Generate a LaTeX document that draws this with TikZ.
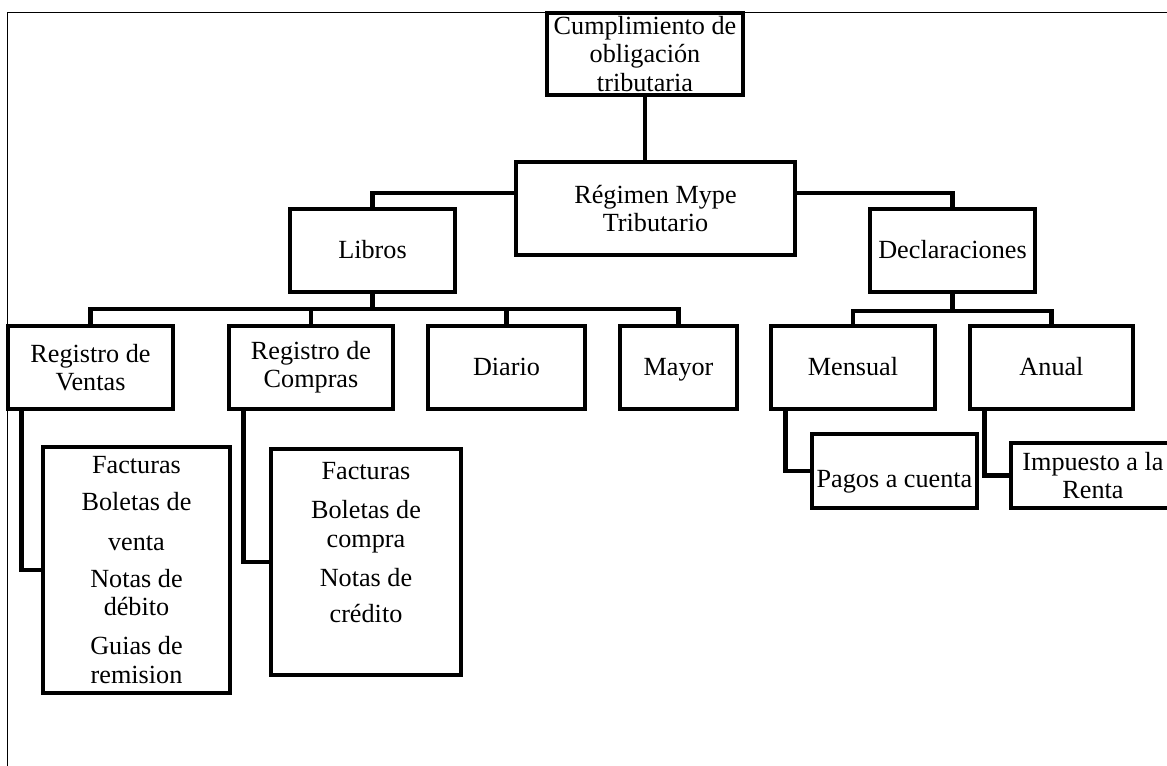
\documentclass[tikz,border=0pt]{standalone}
\usepackage{fontspec}
\setmainfont{Liberation Serif}
\usepackage{tikz}
\usetikzlibrary{positioning}
\newcommand{\pxu}{0.0161cm}

\begin{document}
\begin{tikzpicture}[x=0.0161cm, y=-0.0161cm,
        font=\fontsize{12}{13}\selectfont,
        caja/.style 2 args={draw, line width=2.1pt, align=center, inner sep=0pt,
            minimum width=#1*\pxu, minimum height=#2*\pxu},
        linea/.style={text height=10pt, text depth=2.5pt},
        enlace/.style={line width=2.1pt}]
    \useasboundingbox (0,0) rectangle (1167,766);
    \draw [line width=0.75pt] (1167,12.5) -- (7.5,12.5) -- (7.5,766);   % marco

    % niveles superiores
    \node [caja={196}{82}] (cumpl) at (645,54) {Cumplimiento de\\ obligación\\ tributaria};
    \node [caja={279}{93}] (regimen) at (655.5,208.5) {Régimen Mype\\ Tributario};
    \node [caja={165}{83}, linea] (libros) at (372.5,250.5) {Libros};
    \node [caja={165}{83}, linea] (declar) at (952.5,250.5) {Declaraciones};

    % libros
    \node [caja={165}{83}] (ventas) at (90.5,367.5) {Registro de\\ Ventas};
    \node [caja={164}{83}] (compras) at (311,367.5) {Registro de\\ Compras};
    \node [caja={157}{83}, linea] (diario) at (506.5,367.5) {Diario};
    \node [caja={117}{83}, linea] (mayor) at (678.5,367.5) {Mayor};

    % declaraciones
    \node [caja={164}{83}, linea] (mensual) at (853,367.5) {Mensual};
    \node [caja={163}{83}, linea] (anual) at (1051.5,367.5) {Anual};

    % detalles
    \node [caja={187}{246}] (ventasdet) at (136.5,570) {Facturas\\[4pt] Boletas de\\[5pt] venta\\[4pt]
        Notas de\\ débito\\[5pt] Guias de\\ remision};
    \node [caja={190}{226}] (comprasdet) at (366,562) {Facturas\\[5pt] Boletas de\\ compra\\[5pt]
        Notas de\\[3.5pt] crédito\\[5pt] ~};
    \node [caja={165}{74}, text height=17pt, text depth=2pt] (pagos) at (894.5,471) {Pagos a cuenta};
    \node [caja={164}{65}] (impuesto) at (1093,475.5) {Impuesto a la\\ Renta};

    % conectores
    \coordinate (barraL) at (372.5,309);
    \coordinate (barraD) at (952.5,311);
    \draw [enlace] (cumpl.south) -- (cumpl.south |- regimen.north);
    \draw [enlace] (libros.north) |- ([yshift=15.5*\pxu]regimen.west);
    \draw [enlace] (declar.north) |- ([yshift=15.5*\pxu]regimen.east);
    \draw [enlace] (libros.south) -- (barraL);
    \draw [enlace] (ventas.north) |- (barraL);
    \draw [enlace] (compras.north) |- (barraL);
    \draw [enlace] (diario.north) |- (barraL);
    \draw [enlace] (mayor.north) |- (barraL);
    \draw [enlace] (declar.south) -- (barraD);
    \draw [enlace] (mensual.north) |- (barraD);
    \draw [enlace] (anual.north) |- (barraD);
    \draw [enlace] ([xshift=16*\pxu]ventas.south west) |- (ventasdet.west);
    \draw [enlace] ([xshift=17*\pxu]compras.south west) |- (comprasdet.west);
    \draw [enlace] ([xshift=17*\pxu]mensual.south west) |- (pagos.west);
    \draw [enlace] ([xshift=17*\pxu]anual.south west) |- (impuesto.west);
\end{tikzpicture}
\end{document}
